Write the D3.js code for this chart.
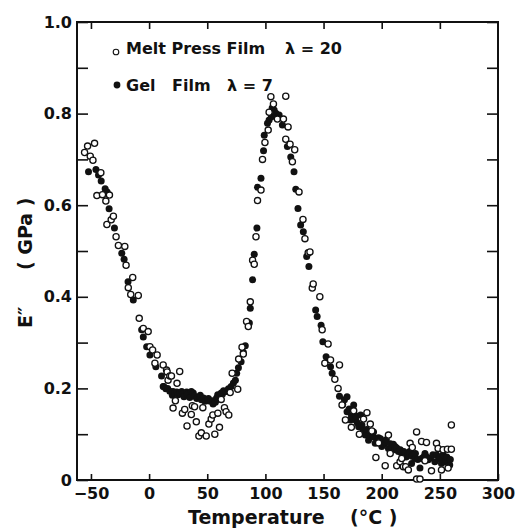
<!DOCTYPE html>
<html>
<head>
<meta charset="utf-8">
<script src="https://cdn.jsdelivr.net/npm/d3@7"></script>
<style>
  body { margin: 0; background: #fff; }
  text { font-family: "DejaVu Sans", sans-serif; font-weight: bold; fill: #111; }
</style>
</head>
<body>
<div id="wrapper"></div>
<script>
// Data: [temperature (°C), E'' (GPa)]
const meltPressFilm = [
  [-55.5,0.715],[-52.9,0.729],[-50.6,0.707],[-48.3,0.698],[-46.9,0.735],[-44.9,0.621],[-41.5,0.671],
  [-40.1,0.623],[-37.2,0.609],[-36.3,0.558],[-34.1,0.622],[-32.6,0.568],[-30.7,0.576],[-28.4,0.531],
  [-26.4,0.512],[-20.9,0.510],[-19.8,0.469],[-17.9,0.420],[-15.8,0.405],[-14.1,0.442],[-9.3,0.403],
  [-8.5,0.353],[-5.0,0.331],[-0.8,0.324],[0.7,0.291],[3.0,0.284],[5.0,0.255],[6.9,0.273],[12.1,0.251],
  [15.0,0.240],[15.5,0.236],[16.3,0.218],[17.8,0.227],[19.2,0.227],[20.6,0.157],[22.6,0.173],[24.0,0.211],
  [26.3,0.237],[28.6,0.146],[30.6,0.154],[32.6,0.118],[36.3,0.143],[37.2,0.162],[39.1,0.160],[40.6,0.127],
  [42.8,0.096],[44.9,0.103],[46.2,0.158],[49.1,0.096],[51.4,0.122],[53.4,0.133],[54.8,0.142],[56.5,0.100],
  [59.1,0.146],[60.5,0.115],[62.0,0.176],[64.8,0.158],[66.2,0.149],[68.5,0.142],[69.7,0.191],[71.4,0.233],
  [76.2,0.198],[77.0,0.264],[79.9,0.290],[81.0,0.275],[83.8,0.346],[85.3,0.335],[87.0,0.389],[89.0,0.480],
  [90.4,0.471],[91.9,0.531],[93.2,0.610],[96.2,0.633],[97.5,0.700],[99.6,0.737],[102.4,0.764],[103.2,0.803],
  [104.7,0.837],[106.9,0.821],[110.3,0.788],[115.5,0.788],[117.5,0.838],[117.5,0.744],[119.5,0.771],
  [121.2,0.733],[123.2,0.695],[125.2,0.721],[128.9,0.629],[132.3,0.569],[134.0,0.527],[136.8,0.496],
  [138.3,0.498],[140.3,0.419],[141.1,0.428],[146.8,0.400],[148.8,0.328],[151.1,0.255],[153.9,0.297],
  [156.0,0.262],[159.7,0.220],[162.5,0.200],[163.7,0.251],[165.9,0.164],[168.8,0.131],[173.9,0.115],
  [175.9,0.151],[180.8,0.100],[184.4,0.133],[187.3,0.147],[190.2,0.122],[191.5,0.107],[195.0,0.049],
  [197.3,0.081],[203.0,0.031],[205.8,0.098],[207.3,0.058],[212.9,0.031],[215.8,0.040],[217.2,0.047],
  [218.6,0.029],[220.6,0.029],[222.9,0.022],[224.4,0.080],[226.3,0.071],[230.0,0.105],[230.0,0.002],
  [232.9,0.002],[234.3,0.084],[237.2,0.042],[238.5,0.082],[242.8,0.020],[247.1,0.080],[248.5,0.069],
  [251.4,0.022],[252.8,0.066],[256.5,0.067],[257.1,0.026],[259.9,0.067],[259.9,0.120]
];

const gelFilm = [
  [-52.1,0.673],[-45.7,0.678],[-43.5,0.666],[-41.2,0.653],[-37.8,0.636],[-36.1,0.629],[-34.4,0.592],
  [-29.8,0.550],[-23.5,0.495],[-21.5,0.482],[-18.1,0.433],[-13.6,0.393],[-6.4,0.328],[-5.0,0.312],
  [-2.1,0.291],[0.7,0.273],[5.8,0.247],[10.7,0.227],[12.1,0.204],[12.6,0.204],[14.4,0.199],[16.0,0.200],
  [17.8,0.194],[20.0,0.185],[20.6,0.193],[22.0,0.190],[23.8,0.192],[25.0,0.186],[26.3,0.190],[28.0,0.193],
  [29.1,0.189],[30.0,0.182],[32.3,0.192],[33.0,0.187],[35.0,0.180],[36.3,0.193],[38.0,0.190],[39.1,0.183],
  [41.0,0.178],[43.4,0.182],[44.0,0.185],[45.0,0.175],[46.8,0.179],[48.0,0.172],[50.5,0.173],[51.0,0.178],
  [52.8,0.172],[54.8,0.173],[55.0,0.166],[57.0,0.170],[58.0,0.179],[59.0,0.186],[60.5,0.182],[62.0,0.190],
  [63.1,0.188],[64.0,0.195],[66.2,0.193],[68.2,0.199],[70.5,0.204],[72.5,0.212],[74.2,0.218],[75.3,0.233],
  [76.8,0.245],[79.1,0.258],[81.0,0.279],[82.7,0.293],[86.2,0.343],[87.0,0.375],[89.0,0.437],[90.4,0.493],
  [92.7,0.550],[93.2,0.639],[96.2,0.659],[98.4,0.719],[99.0,0.753],[101.8,0.779],[103.2,0.786],[105.2,0.793],
  [105.8,0.812],[107.5,0.808],[109.0,0.801],[111.8,0.797],[114.6,0.775],[118.9,0.728],[121.8,0.705],
  [124.6,0.673],[126.1,0.635],[128.0,0.593],[130.3,0.557],[132.6,0.542],[135.5,0.488],[137.4,0.466],
  [143.2,0.371],[144.5,0.357],[147.9,0.338],[149.4,0.302],[152.2,0.269],[156.0,0.247],[157.4,0.233],
  [163.7,0.183],[166.5,0.165],[168.0,0.175],[170.2,0.182],[170.2,0.149],[172.0,0.155],[173.1,0.131],
  [174.0,0.140],[175.9,0.164],[177.6,0.131],[178.0,0.140],[179.0,0.125],[180.2,0.116],[181.9,0.142],
  [183.0,0.120],[184.0,0.108],[185.9,0.098],[187.0,0.110],[188.7,0.087],[189.0,0.100],[191.0,0.095],
  [192.9,0.094],[193.0,0.105],[194.4,0.080],[196.0,0.085],[197.3,0.092],[199.0,0.090],[200.1,0.073],
  [202.0,0.078],[203.2,0.083],[204.0,0.088],[205.8,0.069],[207.5,0.079],[209.0,0.068],[210.0,0.078],
  [211.5,0.073],[211.5,0.066],[213.0,0.070],[214.4,0.062],[216.0,0.066],[217.2,0.058],[219.0,0.062],
  [220.1,0.058],[221.0,0.050],[222.9,0.055],[224.0,0.062],[225.7,0.036],[226.0,0.052],[228.6,0.047],
  [229.0,0.058],[231.0,0.045],[232.9,0.026],[234.3,0.047],[236.0,0.050],[237.2,0.058],[238.0,0.052],
  [240.0,0.044],[242.0,0.048],[244.0,0.055],[245.7,0.040],[247.1,0.055],[249.0,0.046],[250.0,0.050],
  [251.4,0.036],[252.8,0.055],[254.0,0.040],[255.4,0.044],[256.0,0.050],[258.5,0.033],[259.0,0.045]
];

const xTicks = [-50, 0, 50, 100, 150, 200, 250, 300];
const yMajorTicks = [0, 0.2, 0.4, 0.6, 0.8, 1.0];
const yMinorTicks = [0, 0.1, 0.2, 0.3, 0.4, 0.5, 0.6, 0.7, 0.8, 0.9, 1.0];

// Dimension
const dimension = {width: 521, height: 531,
  margin: {top: 22, bottom: 51, left: 77, right: 23}};
dimension.boundWidth = dimension.width - dimension.margin.left - dimension.margin.right;
dimension.boundHeight = dimension.height - dimension.margin.top - dimension.margin.bottom;

// Canvas
const wrapper = d3.select('#wrapper').append('svg')
  .attr('width', dimension.width).attr('height', dimension.height);
const bounds = wrapper.append('g')
  .attr('transform', `translate(${dimension.margin.left},${dimension.margin.top})`);

// Scales
const xScale = d3.scaleLinear().domain([-62, 300]).range([0, dimension.boundWidth]);
const yScale = d3.scaleLinear().domain([0, 1]).range([dimension.boundHeight, 0]);

// Axes
const styleAxis = g => {
  g.select('.domain').remove();
  g.selectAll('.tick line').attr('stroke', '#111').attr('stroke-width', 1.6);
  g.selectAll('.tick text').style('font-size', '16px');
};

bounds.append('g')
  .attr('transform', `translate(0,${dimension.boundHeight})`)
  .call(d3.axisBottom(xScale).tickValues(xTicks).tickSize(-6).tickSizeOuter(0).tickPadding(8))
  .call(styleAxis);
bounds.append('g')
  .call(d3.axisTop(xScale).tickValues(xTicks.slice(0, -1)).tickSize(-7).tickFormat(''))
  .call(styleAxis);
bounds.append('g')
  .call(d3.axisLeft(yScale).tickValues(yMinorTicks).tickSize(-11).tickFormat(''))
  .call(styleAxis);
bounds.append('g')
  .call(d3.axisLeft(yScale).tickValues(yMajorTicks).tickSize(0).tickPadding(5)
    .tickFormat(d => d === 0 ? '0' : d3.format('.1f')(d)))
  .call(styleAxis);
bounds.append('g')
  .attr('transform', `translate(${dimension.boundWidth},0)`)
  .call(d3.axisRight(yScale).tickValues(yMinorTicks).tickSize(-11).tickFormat(''))
  .call(styleAxis);

// Frame
bounds.append('rect')
  .attr('width', dimension.boundWidth).attr('height', dimension.boundHeight)
  .attr('fill', 'none').attr('stroke', '#111').attr('stroke-width', 2);

// Points
bounds.append('g').selectAll('circle').data(gelFilm).enter().append('circle')
  .attr('cx', d => xScale(d[0])).attr('cy', d => yScale(d[1]))
  .attr('r', 3.5).attr('fill', '#111');
bounds.append('g').selectAll('circle').data(meltPressFilm).enter().append('circle')
  .attr('cx', d => xScale(d[0])).attr('cy', d => yScale(d[1]))
  .attr('r', 3.1).attr('fill', '#fff').attr('stroke', '#111').attr('stroke-width', 1.3);

// Legend
const legend = wrapper.append('g');
legend.append('circle').attr('cx', 116).attr('cy', 52).attr('r', 2.8)
  .attr('fill', '#fff').attr('stroke', '#111').attr('stroke-width', 1.1);
legend.append('text').attr('x', 126).attr('y', 54).style('font-size', '16px')
  .text('Melt Press Film');
legend.append('text').attr('x', 285).attr('y', 54).style('font-size', '16px')
  .text('λ = 20');
legend.append('circle').attr('cx', 117).attr('cy', 85).attr('r', 3.4).attr('fill', '#111');
legend.append('text').attr('x', 126).attr('y', 91).style('font-size', '16px').text('Gel');
legend.append('text').attr('x', 172).attr('y', 91).style('font-size', '16px').text('Film');
legend.append('text').attr('x', 227).attr('y', 91).style('font-size', '16px').text('λ = 7');

// Axis titles
const xTitle = wrapper.append('text').attr('y', 524).style('font-size', '19px');
xTitle.append('tspan').attr('x', 188).text('Temperature');
xTitle.append('tspan').attr('x', 350).text('(°C )');

const yTitle = wrapper.append('text')
  .attr('transform', 'translate(32,328) rotate(-90)').style('font-size', '19px');
yTitle.append('tspan').attr('x', 0).text('E″');
yTitle.append('tspan').attr('x', 58).text('( GPa )');
</script>
</body>
</html>
